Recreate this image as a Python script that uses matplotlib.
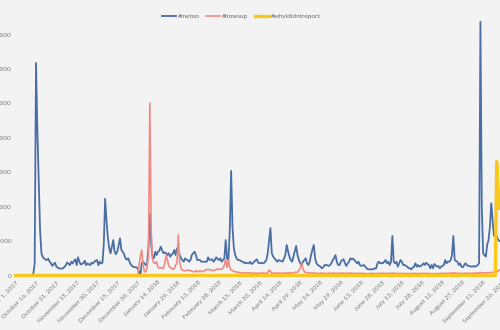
import datetime as dt
import matplotlib
matplotlib.use("Agg")
import matplotlib.pyplot as plt
import matplotlib.dates as mdates
import pandas as pd

# ---------------- data ----------------
series_names = ["#metoo", "#timesup", "#whyididntreport"]

metoo_start = "2017-10-13"
metoo_values = [
    0, 500, 3500, 61800, 42000, 28000, 13000, 6500,
    5300, 5000, 4600, 4500, 4900, 4000, 3600, 2800, 3300, 3700,
    2600, 2300, 2100, 2000, 2000, 2100, 2500, 3000, 3800, 3400,
    3000, 4000, 3500, 4200, 4700, 3000, 5300, 4000, 3200, 3400,
    3600, 4300, 3000, 3500, 3300, 3000, 3700, 3500, 4000, 4300,
    4500, 3000, 4000, 3500, 3700, 9000, 22300, 16000, 11000, 8000,
    6450, 8370, 10300, 6900, 6200, 7000, 8800, 10800, 7400, 6900,
    6200, 5000, 4600, 5000, 4000, 3200, 2700, 2500, 2400, 2400,
    2100, 1200, 0, 3500, 4000, 3500, 3000, 3500, 8400, 18000,
    9000, 5500, 5000, 6900, 5950, 6900, 7200, 8370, 7400, 6450,
    6700, 6500, 5950, 6450, 5470, 6000, 6450, 7400, 5950, 7900,
    7200, 6000, 5000, 4500, 4000, 5000, 4600, 4500, 4000, 4500,
    5950, 6500, 6900, 5950, 4500, 4500, 4500, 4000, 4000, 4000,
    4000, 4000, 5290, 4500, 4600, 4700, 4000, 4500, 5290, 4800,
    4500, 5000, 4000, 4500, 5000, 10300, 5000, 4500, 13200, 30400,
    14000, 8000, 5950, 5000, 4500, 4500, 4300, 4000, 4000, 3550,
    3700, 3600, 3550, 4000, 3340, 3550, 4000, 4400, 4700, 3700,
    3550, 3700, 3600, 3550, 4000, 4500, 6450, 10000, 13800, 6500,
    5500, 5000, 4500, 4000, 4500, 4300, 4200, 4000, 5000, 5950,
    8870, 7000, 5500, 4500, 4000, 5500, 7000, 8600, 5950, 4500,
    3550, 3050, 4000, 4500, 5000, 3550, 3050, 4000, 5950, 7500,
    8870, 5000, 3550, 3050, 2800, 2560, 2090, 2380, 3050, 3050,
    3000, 2760, 3050, 3550, 4500, 5000, 5950, 4000, 3050, 3050,
    4000, 4500, 4700, 3550, 2760, 3500, 4000, 5000, 4700, 4900,
    4500, 4000, 3550, 4000, 3050, 2760, 2900, 3050, 2560, 2090,
    1800, 1800, 1800, 1800, 1800, 2090, 2090, 3500, 4000, 3550,
    3700, 3550, 4000, 4500, 3550, 4000, 3050, 4000, 11500, 4000,
    3550, 4000, 2560, 3500, 4500, 4000, 3050, 3050, 2800, 2560,
    2090, 2090, 1800, 2300, 2560, 3550, 2560, 3050, 2560, 2800,
    3050, 3550, 3050, 3700, 3300, 3050, 2090, 3050, 2090, 3340,
    2900, 2560, 2760, 2090, 2560, 2800, 3050, 4500, 3550, 4000,
    4000, 4500, 5950, 11500, 4500, 4200, 4000, 3050, 3550, 2560,
    2380, 3000, 3550, 3050, 2760, 2760, 2600, 2560, 2760, 2560,
    2760, 3000, 3550, 73800, 20000, 6500, 5900, 5500, 9000, 10300,
    14200, 21000, 16000, 11500, 12000, 11500, 10500, 10000,
]

timesup_start = "2017-12-30"
timesup_values = [
    0, 3000, 5500, 7400, 3000, 1100, 1100, 2500, 6000, 50100,
    13000, 4500, 3600, 3500, 4000, 2400, 2100, 2300, 2200, 2100,
    3500, 5950, 4500, 2800, 2380, 2090, 1800, 2000, 3050, 3500,
    11800, 4000, 2090, 1600, 1400, 1400, 1400, 1600, 1500, 1400,
    1200, 1100, 1100, 1400, 1100, 1100, 1400, 1200, 1100, 1300,
    1600, 1700, 1800, 1700, 1600, 1500, 1400, 1600, 1800, 1900,
    1700, 1800, 1900, 2090, 3050, 4700, 2300, 4500, 2380, 1600,
    1400, 1200, 1100, 1000, 900, 900, 800, 800, 800, 800,
    700, 700, 800, 700, 700, 650, 650, 700, 650, 650,
    650, 650, 700, 700, 650, 650, 800, 1600, 1200, 700,
    700, 650, 650, 700, 700, 650, 650, 650, 700, 700,
    700, 800, 700, 700, 700, 800, 900, 1000, 900, 1500,
    2200, 3600, 2000, 1100, 900, 800, 800, 700, 700, 700,
    700, 650, 650, 600, 600, 650, 700, 650, 600, 600,
    600, 650, 600, 600, 700, 650, 600, 600, 650, 600,
    650, 700, 600, 600, 650, 600, 650, 700, 600, 600,
    600, 600, 650, 600, 600, 600, 650, 600, 550, 550,
    550, 550, 550, 600, 600, 550, 550, 600, 600, 600,
    600, 650, 600, 600, 600, 600, 650, 600, 700, 600,
    600, 600, 550, 550, 600, 600, 550, 550, 550, 550,
    550, 550, 550, 550, 600, 600, 550, 550, 550, 600,
    600, 600, 600, 600, 600, 600, 550, 550, 550, 550,
    550, 550, 550, 600, 600, 600, 600, 600, 600, 650,
    650, 650, 700, 800, 700, 650, 650, 650, 600, 600,
    600, 600, 650, 650, 650, 600, 600, 650, 650, 650,
    700, 700, 700, 900, 800, 750, 750, 750, 800, 800,
    850, 850, 900, 950, 1000, 1100, 1300, 1600,
]

whyididntreport_dates = ["2017-10-01", "2018-09-20", "2018-09-21",
                         "2018-09-22", "2018-09-23"]
whyididntreport_values = [0, 0, 33100, 25000, 19500]

y_ticks = [0, 10000, 20000, 30000, 40000, 50000, 60000, 70000]
x_tick_start = "2017-10-01"
x_tick_step_days = 15
x_tick_count = 25

colors = ["#4a6fa5", "#f08a84", "#f7c81e"]
bg = "#f3f3f3"
text_color = "#7a7a7a"

# ---------------- figure ----------------
plt.rcParams["font.family"] = ["Lato", "DejaVu Sans"]

fig = plt.figure(figsize=(5.0, 3.3), dpi=100, facecolor=bg)
W, H = 500.0, 330.0
ax_left_px, ax_right_px = 15.0, 520.0
ax_bottom_px, ax_top_px = 275.5, 20.9
ax = fig.add_axes([ax_left_px / W, 1 - ax_bottom_px / H,
                   (ax_right_px - ax_left_px) / W,
                   (ax_bottom_px - ax_top_px) / H])
ax.set_facecolor(bg)

metoo_x = pd.date_range(metoo_start, periods=len(metoo_values), freq="D")
timesup_x = pd.date_range(timesup_start, periods=len(timesup_values), freq="D")
why_x = pd.to_datetime(whyididntreport_dates)

ax.plot(metoo_x, metoo_values, color=colors[0], lw=1.3,
        label=series_names[0], solid_joinstyle="round")
ax.plot(timesup_x, timesup_values, color=colors[1], lw=1.2,
        label=series_names[1], solid_joinstyle="round")
ax.plot(why_x, whyididntreport_values, color=colors[2], lw=2.4,
        label=series_names[2], clip_on=False, solid_joinstyle="round")

t0 = pd.Timestamp(x_tick_start)
ax.set_xlim(t0 - pd.Timedelta(days=0.52), t0 + pd.Timedelta(days=372.2))
ax.set_ylim(0, 74000)

ticks = [t0 + pd.Timedelta(days=x_tick_step_days * i) for i in range(x_tick_count)]
ax.set_xticks(ticks)
ax.set_xticklabels([f"{t:%B} {t.day}, {t.year}" for t in ticks],
                   rotation=45, ha="right", rotation_mode="anchor",
                   fontsize=4.6, color=text_color)
ax.set_yticks(y_ticks)
ax.set_yticklabels([str(v) for v in y_ticks], fontsize=4.6, color=text_color)
ax.tick_params(axis="both", length=0)
ax.tick_params(axis="y", pad=2.3)
ax.tick_params(axis="x", pad=3.0)

for s in ax.spines.values():
    s.set_visible(False)

leg = fig.legend(loc="center", bbox_to_anchor=(241 / W, 1 - 16 / H),
                 ncol=3, frameon=False, fontsize=4.6, handlelength=2.2,
                 handletextpad=0.3, columnspacing=1.0)
for t in leg.get_texts():
    t.set_color("#666666")

fig.savefig("out.png", dpi=100, facecolor=bg)
